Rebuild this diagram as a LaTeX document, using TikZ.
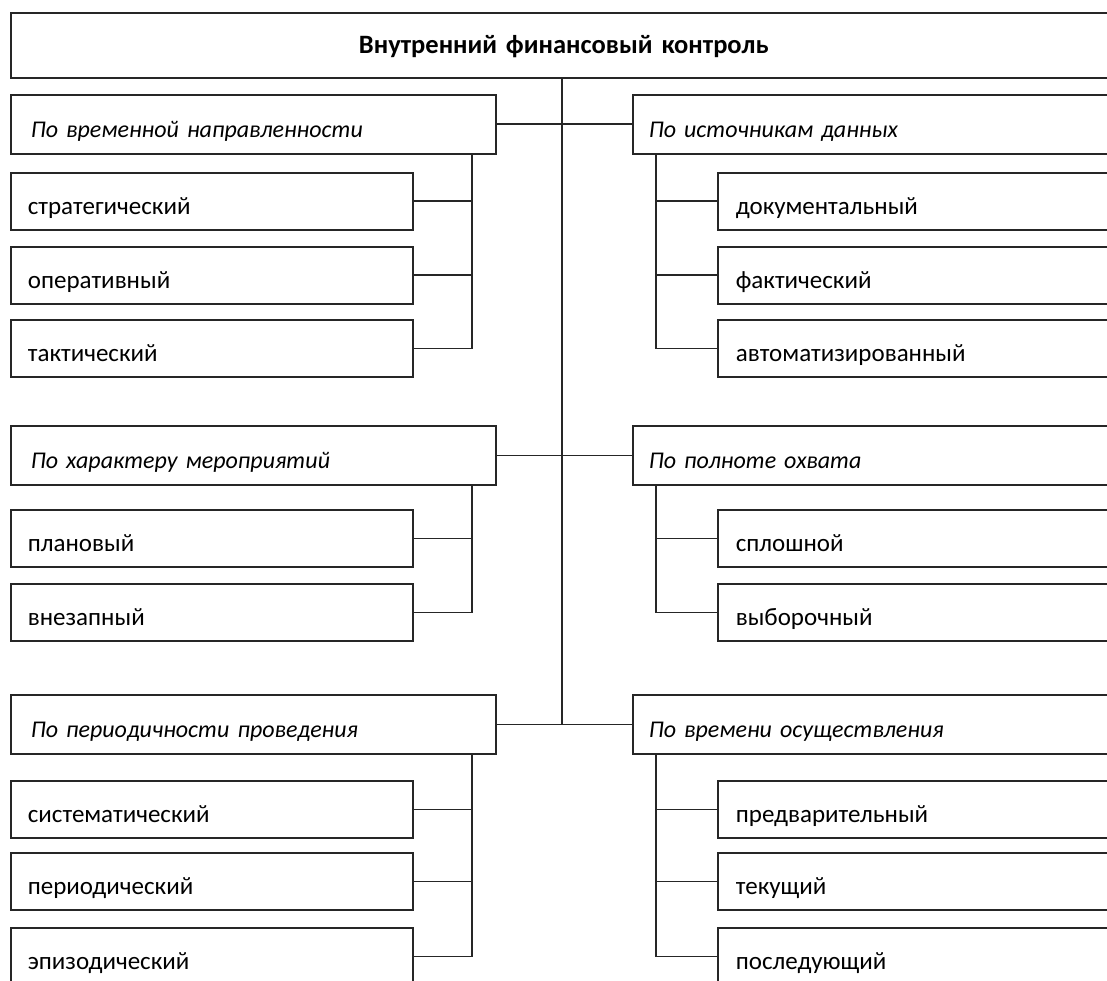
\documentclass[tikz,border=0pt]{standalone}
\usepackage{fontspec}
\setmainfont{Carlito}[WordSpace=0.8]
\usepackage{xcolor}
\usetikzlibrary{positioning}
\definecolor{boxline}{HTML}{262626}

\tikzset{
  box/.style={draw=boxline, line width=1.7pt, rectangle, anchor=north west,
    align=left, inner ysep=0pt, text height=26pt, text depth=0pt,
    font=\fontsize{25}{29}\selectfont},
  headbox/.style={box, minimum height=65pt, text width=1000pt, inner xsep=53pt,
    align=center, text height=17pt, font=\fontsize{26.5}{30}\selectfont\bfseries},
  catl/.style={box, minimum height=59pt, text width=445pt, inner xsep=20pt,
    font=\fontsize{24}{28}\selectfont\itshape},
  catr/.style={box, minimum height=59pt, text width=536pt, inner xsep=16pt,
    font=\fontsize{24}{28}\selectfont\itshape},
  subl/.style={box, minimum height=57pt, text width=368pt, inner xsep=17pt},
  subr/.style={box, minimum height=57pt, text width=447pt, inner xsep=18pt},
  link/.style={draw=boxline, line width=1.7pt}
}

\begin{document}
\begin{tikzpicture}[x=1pt, y=-1pt]
\useasboundingbox (0,0) rectangle (1107,981);
\clip (0,0) rectangle (1107,981);

\node[headbox] (vfk) at (10,12) {Внутренний финансовый контроль};

% left column
\node[catl] (vrem) at (10,94) {По временной направленности};
\node[subl] (strat) at (10,172) {стратегический};
\node[subl] (oper) at (10,246) {оперативный};
\node[subl] (takt) at (10,319) {тактический};
\node[catl] (harakt) at (10,425) {По характеру мероприятий};
\node[subl] (plan) at (10,509) {плановый};
\node[subl] (vnez) at (10,583) {внезапный};
\node[catl] (period) at (10,694) {По периодичности проведения};
\node[subl] (sist) at (10,780) {систематический};
\node[subl] (perd) at (10,852) {периодический};
\node[subl] (epiz) at (10,927) {эпизодический};

% right column
\node[catr] (istoch) at (632,94) {По источникам данных};
\node[subr] (dok) at (717,172) {документальный};
\node[subr] (fakt) at (717,246) {фактический};
\node[subr] (avto) at (717,319) {автоматизированный};
\node[catr] (polnota) at (632,425) {По полноте охвата};
\node[subr] (splosh) at (717,509) {сплошной};
\node[subr] (vybor) at (717,583) {выборочный};
\node[catr] (osush) at (632,694) {По времени осуществления};
\node[subr] (predv) at (717,780) {предварительный};
\node[subr] (tek) at (717,852) {текущий};
\node[subr] (posl) at (717,927) {последующий};

\coordinate (trunk) at (562,0);
\coordinate (busl) at (472,0);
\coordinate (busr) at (656,0);

% trunk and branches
\draw[link] (vfk.south -| trunk) -- (period.east -| trunk);
\draw[link] (vrem.east) -- (istoch.west);
\draw[link] (harakt.east) -- (polnota.west);
\draw[link] (period.east) -- (osush.west);

% left buses
\draw[link] (vrem.south -| busl) |- (takt.east);
\draw[link] (strat.east) -- (strat.east -| busl);
\draw[link] (oper.east) -- (oper.east -| busl);
\draw[link] (harakt.south -| busl) |- (vnez.east);
\draw[link] (plan.east) -- (plan.east -| busl);
\draw[link] (period.south -| busl) |- (epiz.east);
\draw[link] (sist.east) -- (sist.east -| busl);
\draw[link] (perd.east) -- (perd.east -| busl);

% right buses
\draw[link] (istoch.south -| busr) |- (avto.west);
\draw[link] (dok.west) -- (dok.west -| busr);
\draw[link] (fakt.west) -- (fakt.west -| busr);
\draw[link] (polnota.south -| busr) |- (vybor.west);
\draw[link] (splosh.west) -- (splosh.west -| busr);
\draw[link] (osush.south -| busr) |- (posl.west);
\draw[link] (predv.west) -- (predv.west -| busr);
\draw[link] (tek.west) -- (tek.west -| busr);
\end{tikzpicture}
\end{document}
